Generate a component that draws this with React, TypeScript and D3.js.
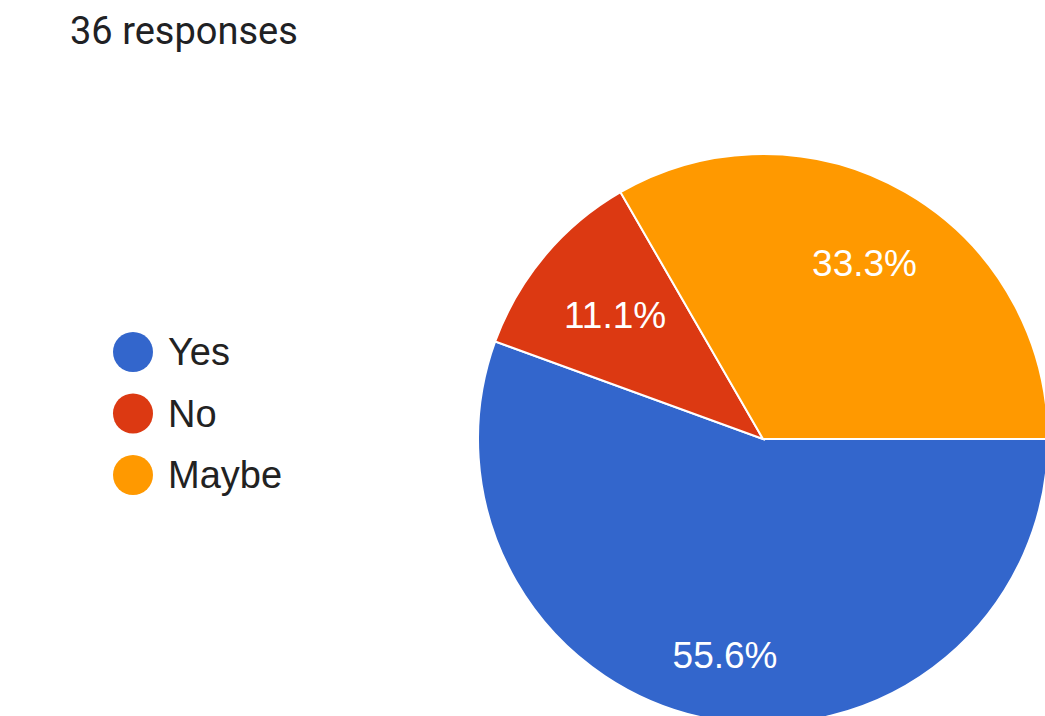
import React from "react";
import * as d3 from "d3";

const categories = ["Yes", "No", "Maybe"];
const counts = [20, 4, 12];
const colors = ["#3366cc", "#dc3912", "#ff9900"];
const title = "36 responses";

const W = 1045;
const H = 716;
const LABEL_FONT = 37;
const LABEL_FAMILY = "'Liberation Sans', Arial, sans-serif";

function measure(text: string, font: string): number {
  const c = document.createElement("canvas");
  const ctx = c.getContext("2d");
  if (!ctx) return text.length * 20;
  ctx.font = font;
  return ctx.measureText(text).width;
}

export default function App() {
  const cx = 763;
  const cy = 439;
  const r = 285;
  const total = d3.sum(counts);
  const pie = d3
    .pie<number>()
    .sort(null)
    .startAngle(Math.PI / 2)
    .endAngle(Math.PI / 2 + 2 * Math.PI);
  const arcs = pie(counts);
  const arc = d3.arc<d3.PieArcDatum<number>>().innerRadius(0).outerRadius(r);
  const pct = d3.format(".1%");
  const legendY = d3
    .scalePoint<string>()
    .domain(categories)
    .range([352, 475]);

  return (
    <svg
      width={W}
      height={H}
      style={{ position: "absolute", left: 0, top: 0, background: "#fff" }}
    >
      <text
        x={70}
        y={44}
        fontFamily="Roboto, sans-serif"
        fontSize={38}
        fill="#202124"
      >
        {title}
      </text>
      <g transform={`translate(${cx},${cy})`}>
        {arcs.map((a, i) => (
          <path
            key={categories[i]}
            d={arc(a) || ""}
            fill={colors[i]}
            stroke="#fff"
            strokeWidth={2}
          />
        ))}
        {arcs.map((a, i) => {
          const label = pct(a.value / total);
          const mid = (a.startAngle + a.endAngle) / 2;
          const sx = Math.sin(mid);
          const sy = -Math.cos(mid);
          const w = measure(label, `${LABEL_FONT}px ${LABEL_FAMILY}`);
          const h = LABEL_FONT * 0.72;
          const extent = Math.abs(sx) * (w / 2) + Math.abs(sy) * (h / 2);
          const d = r * 0.845 - extent;
          return (
            <text
              key={"l" + i}
              x={sx * d}
              y={sy * d + h / 2}
              textAnchor="middle"
              fontFamily={LABEL_FAMILY}
              fontSize={LABEL_FONT}
              fill="#fff"
            >
              {label}
            </text>
          );
        })}
      </g>
      {categories.map((c, i) => (
        <g key={c} transform={`translate(0,${legendY(c)})`}>
          <circle cx={133} cy={0} r={20} fill={colors[i]} />
          <text
            x={168}
            y={13}
            fontFamily={LABEL_FAMILY}
            fontSize={38}
            fill="#222"
          >
            {c}
          </text>
        </g>
      ))}
    </svg>
  );
}
